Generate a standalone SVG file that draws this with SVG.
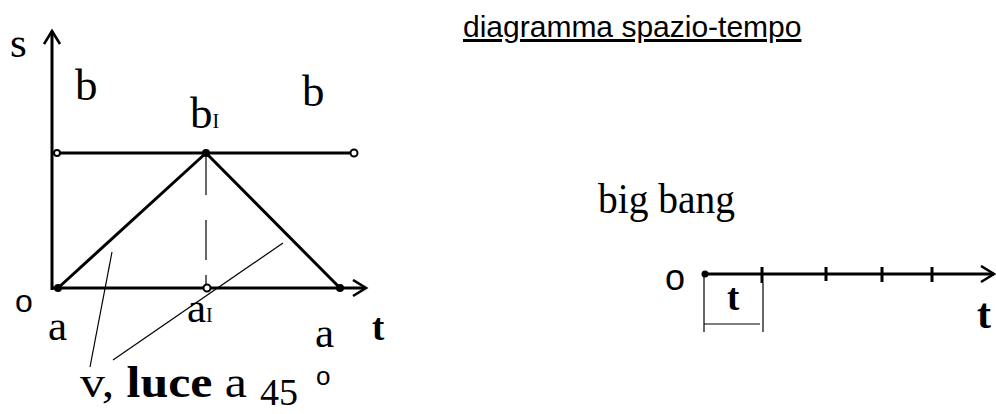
<svg xmlns="http://www.w3.org/2000/svg" width="996" height="414" viewBox="0 0 996 414">
<style>
.ax{stroke:#000;stroke-width:3;fill:none}
.th{stroke:#000;stroke-width:1.2;fill:none}
.sf{font-family:"Liberation Serif","DejaVu Serif",serif;fill:#000}
.ss{font-family:"Liberation Sans",Arial,sans-serif;fill:#000}
.bd{font-weight:bold}
</style>
<defs>
<marker id="arr" markerWidth="18" markerHeight="20" refX="14" refY="9" orient="auto" markerUnits="userSpaceOnUse">
<path d="M1,1 L14,9 L1,17" fill="none" stroke="#000" stroke-width="2.6"/>
</marker>
</defs>
<rect width="996" height="414" fill="#fff"/>
<g id="connectors">
<line class="ax" x1="52" y1="290" x2="52" y2="31" marker-end="url(#arr)"/>
<line class="ax" x1="52" y1="288" x2="366" y2="288" marker-end="url(#arr)"/>
<line class="ax" x1="57" y1="153" x2="354" y2="153"/>
<line class="ax" x1="58" y1="288" x2="206" y2="153"/>
<line class="ax" x1="206" y1="153" x2="340" y2="288"/>
<line class="th" x1="206" y1="155" x2="206" y2="195"/>
<line class="th" x1="206" y1="220" x2="206" y2="260"/>
<line class="th" x1="206" y1="275" x2="206" y2="285"/>
<line class="th" x1="112" y1="252" x2="90" y2="367"/>
<line class="th" x1="283" y1="243" x2="113" y2="360"/>
<line class="ax" x1="705" y1="274" x2="994" y2="274" marker-end="url(#arr)"/>
<line class="ax" x1="762" y1="267" x2="762" y2="283"/>
<line class="ax" x1="826" y1="267" x2="826" y2="281"/>
<line class="ax" x1="882" y1="267" x2="882" y2="282"/>
<line class="ax" x1="932" y1="267" x2="932" y2="282"/>
<line class="th" x1="704" y1="275" x2="704" y2="332"/>
<line class="th" x1="763" y1="283" x2="763" y2="332"/>
<line class="th" x1="704" y1="324" x2="760" y2="324"/>
</g>
<g id="points">
<circle cx="57" cy="153" r="3" fill="#fff" stroke="#000" stroke-width="2"/>
<circle cx="206" cy="153" r="4" fill="#000"/>
<circle cx="354" cy="153" r="3.5" fill="#fff" stroke="#000" stroke-width="2"/>
<circle cx="58" cy="288" r="4" fill="#000"/>
<circle cx="207" cy="288" r="3.5" fill="#fff" stroke="#000" stroke-width="2"/>
<circle cx="340" cy="288" r="4" fill="#000"/>
<circle cx="705" cy="274" r="3.5" fill="#000"/>
</g>
<g id="labels">
<text class="sf" x="10" y="57" font-size="43">s</text>
<text class="sf" x="75" y="100" font-size="45">b</text>
<text class="sf" x="190" y="128" font-size="45">b<tspan font-size="20">I</tspan></text>
<text class="sf" x="302" y="106" font-size="45">b</text>
<text class="ss" x="15" y="312" font-size="32">o</text>
<text class="sf" x="48" y="340" font-size="43">a</text>
<text class="sf" x="187" y="322" font-size="43">a<tspan font-size="20">I</tspan></text>
<text class="sf" x="315" y="347" font-size="43">a</text>
<text class="sf bd" x="372" y="340" font-size="37">t</text>
<text class="sf" x="80" y="397" font-size="44" textLength="167" lengthAdjust="spacingAndGlyphs">v, <tspan class="bd">luce</tspan> a</text>
<text class="sf" x="260" y="405" font-size="38">45</text>
<text class="ss" x="316" y="385" font-size="26">o</text>
<text class="ss" x="463" y="37" font-size="30" text-decoration="underline">diagramma spazio-tempo</text>
<text class="sf" x="598" y="213" font-size="43" textLength="137" lengthAdjust="spacingAndGlyphs">big bang</text>
<text class="ss" x="665" y="290" font-size="36">o</text>
<text class="sf bd" x="727" y="310" font-size="37">t</text>
<text class="sf bd" x="977" y="328" font-size="42">t</text>
</g>
</svg>
